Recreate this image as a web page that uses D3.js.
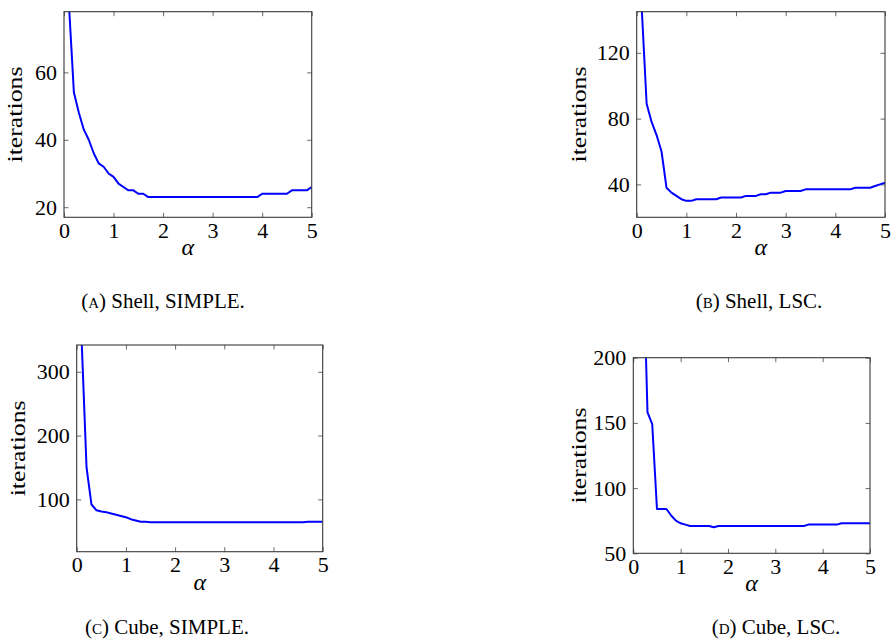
<!DOCTYPE html>
<html>
<head>
<meta charset="utf-8">
<script src="https://cdn.jsdelivr.net/npm/d3@7"></script>
<style>
  html, body { margin: 0; padding: 0; background: #fff; }
  svg { display: block; }
  text { font-family: "Liberation Serif", "DejaVu Serif", serif; fill: #000; }
</style>
</head>
<body>
<svg id="chart" width="891" height="642"></svg>
<script>
// ---------- data ----------
const alphaFrom01 = d3.range(1, 51).map(i => i / 10);   // 0.1 .. 5.0
const alphaFrom02 = d3.range(2, 51).map(i => i / 10);   // 0.2 .. 5.0

const shellSimple = [80, 54, 48, 43, 40, 36, 33, 32, 30, 29,
  27, 26, 25, 25, 24, 24, 23, 23, 23, 23,
  23, 23, 23, 23, 23, 23, 23, 23, 23, 23,
  23, 23, 23, 23, 23, 23, 23, 23, 23, 24,
  24, 24, 24, 24, 24, 25, 25, 25, 25, 26];

const shellLSC = [148, 89, 78, 70, 60, 38, 35, 33, 31, 30,
  30, 31, 31, 31, 31, 31, 32, 32, 32, 32,
  32, 33, 33, 33, 34, 34, 35, 35, 35, 36,
  36, 36, 36, 37, 37, 37, 37, 37, 37, 37,
  37, 37, 37, 38, 38, 38, 38, 39, 40, 41];

const cubeSimple = [350, 150, 92, 83, 81, 80, 78, 76, 74, 72,
  69, 67, 65, 65, 64, 64, 64, 64, 64, 64,
  64, 64, 64, 64, 64, 64, 64, 64, 64, 64,
  64, 64, 64, 64, 64, 64, 64, 64, 64, 64,
  64, 64, 64, 64, 64, 64, 65, 65, 65, 65];

const cubeLSC = [290, 158, 149, 84, 84, 84, 79, 75, 73, 72,
  71, 71, 71, 71, 71, 70, 71, 71, 71, 71,
  71, 71, 71, 71, 71, 71, 71, 71, 71, 71,
  71, 71, 71, 71, 71, 72, 72, 72, 72, 72,
  72, 72, 73, 73, 73, 73, 73, 73, 73];

const xTicks = [0, 1, 2, 3, 4, 5];
const yTicksA = [20, 40, 60];
const yTicksB = [40, 80, 120];
const yTicksC = [100, 200, 300];
const yTicksD = [50, 100, 150, 200];

const captionLetters = ["a", "b", "c", "d"];
const captionTexts = ["Shell, SIMPLE.", "Shell, LSC.", "Cube, SIMPLE.", "Cube, LSC."];

// ---------- layout ----------
const panels = [
  { x: alphaFrom01, y: shellSimple, yDomain: [17, 78],  yTicks: yTicksA,
    box: { l: 64,    r: 311.7, t: 11.7,  b: 217.3 }, ylabX: 15,  capX: 163, capY: 308 },
  { x: alphaFrom01, y: shellLSC,    yDomain: [20, 145], yTicks: yTicksB,
    box: { l: 636.7, r: 885,   t: 11.7,  b: 217.3 }, ylabX: 579, capX: 759, capY: 308 },
  { x: alphaFrom01, y: cubeSimple,  yDomain: [18, 342], yTicks: yTicksC,
    box: { l: 76.7,  r: 322.7, t: 345,   b: 551.7 }, ylabX: 18,  capX: 167, capY: 634 },
  { x: alphaFrom02, y: cubeLSC,     yDomain: [50, 200], yTicks: yTicksD,
    box: { l: 633.3, r: 870,   t: 357.7, b: 553.3 }, ylabX: 579, capX: 776, capY: 634 }
];

const svg = d3.select("#chart");
const defs = svg.append("defs");
const serif = "'Liberation Serif', 'DejaVu Serif', serif";

panels.forEach((p, i) => {
  const b = p.box;
  const xs = d3.scaleLinear().domain([0, 5]).range([b.l, b.r]);
  const ys = d3.scaleLinear().domain(p.yDomain).range([b.b, b.t]);
  const g = svg.append("g");
  const tickLen = 4.5;

  defs.append("clipPath").attr("id", "clip" + i)
    .append("rect").attr("x", b.l).attr("y", b.t)
    .attr("width", b.r - b.l).attr("height", b.b - b.t);

  const xAxisB = d3.axisBottom(xs).tickValues(xTicks).tickSizeInner(-tickLen).tickSizeOuter(0)
    .tickPadding(5).tickFormat(d3.format("d"));
  const gx = g.append("g").attr("transform", `translate(0,${b.b})`).call(xAxisB);
  const xAxisT = d3.axisTop(xs).tickValues(xTicks).tickSizeInner(-tickLen).tickSizeOuter(0).tickFormat("");
  const gxt = g.append("g").attr("transform", `translate(0,${b.t})`).call(xAxisT);
  const yAxisL = d3.axisLeft(ys).tickValues(p.yTicks).tickSizeInner(-tickLen).tickSizeOuter(0)
    .tickPadding(7).tickFormat(d3.format("d"));
  const gy = g.append("g").attr("transform", `translate(${b.l},0)`).call(yAxisL);
  const yAxisR = d3.axisRight(ys).tickValues(p.yTicks).tickSizeInner(-tickLen).tickSizeOuter(0).tickFormat("");
  const gyr = g.append("g").attr("transform", `translate(${b.r},0)`).call(yAxisR);

  [gx, gxt, gy, gyr].forEach(a => {
    a.attr("font-family", null).attr("font-size", null);
    a.select(".domain").remove();
    a.selectAll(".tick line").attr("stroke", "#6a6a6a").attr("stroke-width", 1);
    a.selectAll(".tick text")
      .style("font-family", serif)
      .style("font-size", "22px")
      .style("fill", "#000");
  });

  // data line
  const pts = p.x.map((xv, k) => [xv, p.y[k]]);
  const line = d3.line().x(d => xs(d[0])).y(d => ys(d[1]));
  g.append("path").datum(pts)
    .attr("clip-path", `url(#clip${i})`)
    .attr("d", line)
    .attr("fill", "none")
    .attr("stroke", "#0000ff")
    .attr("stroke-width", 2)
    .attr("stroke-linejoin", "round");

  // frame
  g.append("rect").attr("x", b.l).attr("y", b.t)
    .attr("width", b.r - b.l).attr("height", b.b - b.t)
    .attr("fill", "none").attr("stroke", "#3a3a3a").attr("stroke-width", 1.1);

  // x label alpha
  g.append("text")
    .attr("x", xs(2.5)).attr("y", b.b + 38)
    .attr("text-anchor", "middle")
    .style("font-size", "24px").style("font-style", "italic")
    .text("α");

  // y label
  const cy = (b.t + b.b) / 2;
  g.append("text")
    .attr("transform", `translate(${p.ylabX + 7},${cy}) rotate(-90)`)
    .attr("text-anchor", "middle")
    .style("font-size", "22px")
    .attr("textLength", 96).attr("lengthAdjust", "spacingAndGlyphs")
    .text("iterations");

  // caption
  const cap = g.append("text")
    .attr("x", p.capX).attr("y", p.capY)
    .attr("text-anchor", "middle")
    .style("font-size", "21px");
  cap.append("tspan").text("(");
  cap.append("tspan").style("font-variant", "small-caps").text(captionLetters[i]);
  cap.append("tspan").text(") " + captionTexts[i]);
});
</script>
</body>
</html>
